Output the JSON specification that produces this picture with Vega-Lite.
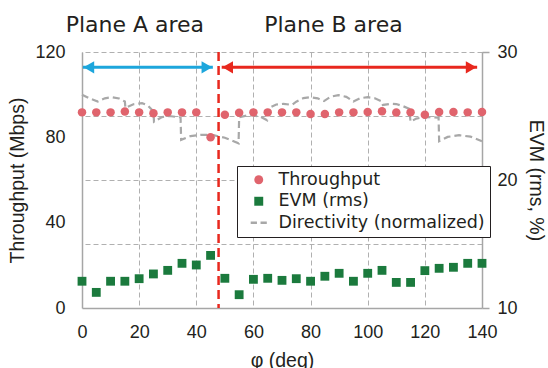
{
  "$schema": "https://vega.github.io/schema/vega-lite/v6.json",
  "width": 400,
  "height": 256,
  "autosize": {"type": "none"},
  "padding": {"left": 82, "top": 52, "right": 66, "bottom": 60},
  "background": "white",
  "config": {
    "view": {"stroke": null},
    "axis": {
      "labelFont": "Liberation Sans", "titleFont": "Liberation Sans",
      "labelFontSize": 18, "titleFontSize": 19.5, "titleFontWeight": "normal",
      "labelColor": "#231f20", "titleColor": "#231f20",
      "domainColor": "#a6a6a6", "domainWidth": 1.5,
      "gridColor": "#b0b0b0", "gridDash": [5, 3], "gridWidth": 1
    }
  },
  "datasets": {
    "points": [
      {"phi": 0, "series": "Throughput", "value": 91.7},
      {"phi": 5, "series": "Throughput", "value": 91.7},
      {"phi": 10, "series": "Throughput", "value": 91.7},
      {"phi": 15, "series": "Throughput", "value": 92.1},
      {"phi": 20, "series": "Throughput", "value": 91.7},
      {"phi": 25, "series": "Throughput", "value": 91.3},
      {"phi": 30, "series": "Throughput", "value": 91.7},
      {"phi": 35, "series": "Throughput", "value": 91.7},
      {"phi": 40, "series": "Throughput", "value": 91.7},
      {"phi": 45, "series": "Throughput", "value": 80.0},
      {"phi": 50, "series": "Throughput", "value": 90.6},
      {"phi": 55, "series": "Throughput", "value": 91.5},
      {"phi": 60, "series": "Throughput", "value": 91.7},
      {"phi": 65, "series": "Throughput", "value": 91.7},
      {"phi": 70, "series": "Throughput", "value": 91.7},
      {"phi": 75, "series": "Throughput", "value": 91.7},
      {"phi": 80, "series": "Throughput", "value": 90.9},
      {"phi": 85, "series": "Throughput", "value": 90.9},
      {"phi": 90, "series": "Throughput", "value": 91.7},
      {"phi": 95, "series": "Throughput", "value": 91.7},
      {"phi": 100, "series": "Throughput", "value": 91.9},
      {"phi": 105, "series": "Throughput", "value": 92.2},
      {"phi": 110, "series": "Throughput", "value": 91.6},
      {"phi": 115, "series": "Throughput", "value": 91.7},
      {"phi": 120, "series": "Throughput", "value": 90.6},
      {"phi": 125, "series": "Throughput", "value": 91.9},
      {"phi": 130, "series": "Throughput", "value": 91.9},
      {"phi": 135, "series": "Throughput", "value": 91.7},
      {"phi": 140, "series": "Throughput", "value": 91.9},
      {"phi": 0, "series": "EVM (rms)", "value": 12.09},
      {"phi": 5, "series": "EVM (rms)", "value": 11.22},
      {"phi": 10, "series": "EVM (rms)", "value": 12.09},
      {"phi": 15, "series": "EVM (rms)", "value": 12.09},
      {"phi": 20, "series": "EVM (rms)", "value": 12.29},
      {"phi": 25, "series": "EVM (rms)", "value": 12.66},
      {"phi": 30, "series": "EVM (rms)", "value": 12.94},
      {"phi": 35, "series": "EVM (rms)", "value": 13.49},
      {"phi": 40, "series": "EVM (rms)", "value": 13.36},
      {"phi": 45, "series": "EVM (rms)", "value": 14.11},
      {"phi": 50, "series": "EVM (rms)", "value": 12.32},
      {"phi": 55, "series": "EVM (rms)", "value": 11.04},
      {"phi": 60, "series": "EVM (rms)", "value": 12.24},
      {"phi": 65, "series": "EVM (rms)", "value": 12.32},
      {"phi": 70, "series": "EVM (rms)", "value": 12.16},
      {"phi": 75, "series": "EVM (rms)", "value": 12.29},
      {"phi": 80, "series": "EVM (rms)", "value": 12.09},
      {"phi": 85, "series": "EVM (rms)", "value": 12.48},
      {"phi": 90, "series": "EVM (rms)", "value": 12.71},
      {"phi": 95, "series": "EVM (rms)", "value": 12.09},
      {"phi": 100, "series": "EVM (rms)", "value": 12.71},
      {"phi": 105, "series": "EVM (rms)", "value": 12.94},
      {"phi": 110, "series": "EVM (rms)", "value": 12.0},
      {"phi": 115, "series": "EVM (rms)", "value": 12.0},
      {"phi": 120, "series": "EVM (rms)", "value": 12.92},
      {"phi": 125, "series": "EVM (rms)", "value": 13.1},
      {"phi": 130, "series": "EVM (rms)", "value": 13.18},
      {"phi": 135, "series": "EVM (rms)", "value": 13.49},
      {"phi": 140, "series": "EVM (rms)", "value": 13.49}
    ],
    "directivity": [
      {"seq": 1, "phi": 0, "value": 100.0},
      {"seq": 2, "phi": 2.5, "value": 98.3},
      {"seq": 3, "phi": 5.5, "value": 96.8},
      {"seq": 4, "phi": 8, "value": 98.3},
      {"seq": 5, "phi": 10.5, "value": 98.8},
      {"seq": 6, "phi": 13, "value": 98.2},
      {"seq": 7, "phi": 15, "value": 96.8},
      {"seq": 8, "phi": 15.2, "value": 93.8},
      {"seq": 9, "phi": 18, "value": 95.5},
      {"seq": 10, "phi": 21, "value": 96.0},
      {"seq": 11, "phi": 23, "value": 95.0},
      {"seq": 12, "phi": 25, "value": 92.2},
      {"seq": 13, "phi": 25.2, "value": 87.3},
      {"seq": 14, "phi": 28, "value": 89.5},
      {"seq": 15, "phi": 30.5, "value": 90.0},
      {"seq": 16, "phi": 34.5, "value": 89.3},
      {"seq": 17, "phi": 34.7, "value": 78.8},
      {"seq": 18, "phi": 38, "value": 80.6},
      {"seq": 19, "phi": 42, "value": 81.2},
      {"seq": 20, "phi": 46, "value": 81.0},
      {"seq": 21, "phi": 50, "value": 79.8},
      {"seq": 22, "phi": 54.8, "value": 77.2},
      {"seq": 23, "phi": 55, "value": 89.4},
      {"seq": 24, "phi": 57.5, "value": 90.2},
      {"seq": 25, "phi": 60, "value": 90.3},
      {"seq": 26, "phi": 62.5, "value": 89.6},
      {"seq": 27, "phi": 64.8, "value": 88.0},
      {"seq": 28, "phi": 65.5, "value": 93.8},
      {"seq": 29, "phi": 68, "value": 95.4},
      {"seq": 30, "phi": 70.5, "value": 95.7},
      {"seq": 31, "phi": 73.5, "value": 95.2},
      {"seq": 32, "phi": 75, "value": 96.7},
      {"seq": 33, "phi": 77.5, "value": 98.4},
      {"seq": 34, "phi": 80, "value": 98.8},
      {"seq": 35, "phi": 82.5, "value": 98.3},
      {"seq": 36, "phi": 84.7, "value": 97.0},
      {"seq": 37, "phi": 87, "value": 99.0},
      {"seq": 38, "phi": 89.7, "value": 99.8},
      {"seq": 39, "phi": 92.5, "value": 99.0},
      {"seq": 40, "phi": 95, "value": 96.8},
      {"seq": 41, "phi": 97.5, "value": 98.4},
      {"seq": 42, "phi": 100, "value": 98.8},
      {"seq": 43, "phi": 102.5, "value": 98.3},
      {"seq": 44, "phi": 105, "value": 96.8},
      {"seq": 45, "phi": 105.3, "value": 95.2},
      {"seq": 46, "phi": 108, "value": 95.7},
      {"seq": 47, "phi": 110, "value": 95.6},
      {"seq": 48, "phi": 112, "value": 94.8},
      {"seq": 49, "phi": 114.5, "value": 93.4},
      {"seq": 50, "phi": 115, "value": 87.3},
      {"seq": 51, "phi": 117, "value": 88.8},
      {"seq": 52, "phi": 119.5, "value": 89.4},
      {"seq": 53, "phi": 122, "value": 89.5},
      {"seq": 54, "phi": 124.8, "value": 89.2},
      {"seq": 55, "phi": 125, "value": 78.2},
      {"seq": 56, "phi": 128, "value": 80.2},
      {"seq": 57, "phi": 132, "value": 81.0},
      {"seq": 58, "phi": 136, "value": 80.3},
      {"seq": 59, "phi": 140, "value": 78.2}
    ],
    "arrows": [
      {"region": "A", "start": 0.3, "end": 45.8, "y": 112.8},
      {"region": "B", "start": 48.9, "end": 138.3, "y": 112.8}
    ],
    "labels": [
      {"phi": 18.5, "y": 129.5, "label": "Plane A area"},
      {"phi": 88, "y": 129.5, "label": "Plane B area"}
    ],
    "boundary": [{"phi": 47.8}]
  },
  "layer": [
    {
      "layer": [
        {
          "data": {"name": "directivity"},
          "mark": {"type": "line", "color": "#a8a8a8", "strokeWidth": 2.2, "strokeDash": [7, 4]},
          "encoding": {
            "x": {"field": "phi", "type": "quantitative", "title": "φ (deg)",
                  "scale": {"domain": [0, 140], "nice": false},
                  "axis": {"values": [0, 20, 40, 60, 80, 100, 120, 140], "grid": true, "ticks": false, "labelFlush": false, "labelPadding": 15, "titlePadding": 10}},
            "y": {"field": "value", "type": "quantitative", "title": "Throughput (Mbps)",
                  "scale": {"domain": [0, 120], "nice": false},
                  "axis": {"values": [0, 40, 80, 120], "grid": false, "ticks": false, "labelFlush": false, "labelPadding": 17, "titlePadding": 7}},
            "order": {"field": "seq", "type": "quantitative"}
          }
        },
        {
          "data": {"name": "points"},
          "transform": [{"filter": "datum.series === 'Throughput'"}],
          "mark": {"type": "point", "filled": true, "opacity": 1, "size": 72},
          "encoding": {
            "x": {"field": "phi", "type": "quantitative"},
            "y": {"field": "value", "type": "quantitative"},
            "color": {"field": "series", "type": "nominal",
                      "scale": {"domain": ["Throughput", "EVM (rms)", "Directivity (normalized)"], "range": ["#e0646d", "#1b7a3d", "#a8a8a8"]},
                      "legend": {"title": null, "orient": "none", "legendX": 155, "legendY": 114, "fillColor": "white", "strokeColor": "#231f20", "padding": 5, "rowPadding": 2.5, "symbolSize": 80, "symbolOffset": 8, "labelOffset": 11, "labelLimit": 400, "labelFont": "DejaVu Sans", "labelFontSize": 17.5, "labelColor": "#231f20", "symbolOpacity": 1, "symbolStrokeWidth": 0}},
            "shape": {"field": "series", "type": "nominal",
                      "scale": {"domain": ["Throughput", "EVM (rms)", "Directivity (normalized)"], "range": ["circle", "square", "M-1.8,-0.28H-0.4V0.28H-1.8Z M0.4,-0.28H1.8V0.28H0.4Z"]}}
          }
        },
        {
          "data": {"name": "boundary"},
          "mark": {"type": "rule", "color": "#e8281e", "strokeWidth": 2.5, "strokeDash": [9, 5]},
          "encoding": {"x": {"field": "phi", "type": "quantitative"}}
        },
        {
          "data": {"name": "arrows"},
          "mark": {"type": "rule", "strokeWidth": 3},
          "encoding": {
            "x": {"field": "start", "type": "quantitative"},
            "x2": {"field": "end"},
            "y": {"field": "y", "type": "quantitative"},
            "color": {"condition": {"test": "datum.region === 'A'", "value": "#1da6dc"}, "value": "#e8281e"}
          }
        },
        {
          "data": {"name": "arrows"},
          "mark": {"type": "point", "shape": "triangle-left", "filled": true, "opacity": 1, "size": 150, "xOffset": 6},
          "encoding": {
            "x": {"field": "start", "type": "quantitative"},
            "y": {"field": "y", "type": "quantitative"},
            "color": {"condition": {"test": "datum.region === 'A'", "value": "#1da6dc"}, "value": "#e8281e"}
          }
        },
        {
          "data": {"name": "arrows"},
          "mark": {"type": "point", "shape": "triangle-right", "filled": true, "opacity": 1, "size": 150, "xOffset": -6},
          "encoding": {
            "x": {"field": "end", "type": "quantitative"},
            "y": {"field": "y", "type": "quantitative"},
            "color": {"condition": {"test": "datum.region === 'A'", "value": "#1da6dc"}, "value": "#e8281e"}
          }
        },
        {
          "data": {"name": "labels"},
          "mark": {"type": "text", "font": "DejaVu Sans", "fontSize": 22, "color": "#231f20", "baseline": "alphabetic", "align": "center"},
          "encoding": {
            "x": {"field": "phi", "type": "quantitative"},
            "y": {"field": "y", "type": "quantitative"},
            "text": {"field": "label"}
          }
        }
      ]
    },
    {
      "data": {"name": "points"},
      "transform": [{"filter": "datum.series === 'EVM (rms)'"}],
      "mark": {"type": "point", "filled": true, "opacity": 1, "size": 78},
      "encoding": {
        "x": {"field": "phi", "type": "quantitative"},
        "y": {"field": "value", "type": "quantitative", "title": "EVM (rms, %)",
              "scale": {"domain": [10, 30], "nice": false},
              "axis": {"orient": "right", "values": [10, 15, 20, 25, 30], "labelExpr": "datum.value % 10 === 0 ? datum.label : ''", "grid": true, "labelFlush": false,
                       "gridOpacity": {"condition": {"test": "datum.value === 10", "value": 0}, "value": 1},
                       "tickSize": 7, "tickColor": "#a6a6a6", "tickWidth": 1.5,
                       "tickOpacity": {"condition": {"test": "datum.value % 10 === 0", "value": 1}, "value": 0},
                       "labelPadding": 8, "titlePadding": 8}},
        "color": {"field": "series", "type": "nominal",
                  "scale": {"domain": ["Throughput", "EVM (rms)", "Directivity (normalized)"], "range": ["#e0646d", "#1b7a3d", "#a8a8a8"]}},
        "shape": {"field": "series", "type": "nominal",
                  "scale": {"domain": ["Throughput", "EVM (rms)", "Directivity (normalized)"], "range": ["circle", "square", "M-1.8,-0.28H-0.4V0.28H-1.8Z M0.4,-0.28H1.8V0.28H0.4Z"]}}
      }
    }
  ],
  "resolve": {"scale": {"y": "independent"}}
}
